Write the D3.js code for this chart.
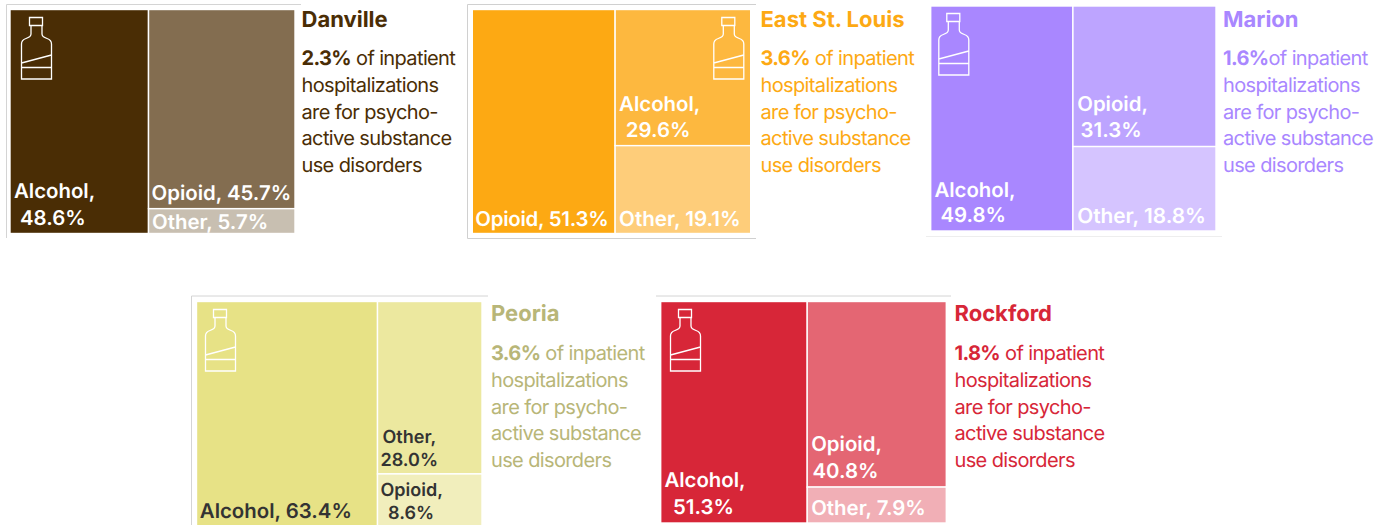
<!DOCTYPE html>
<html><head><meta charset="utf-8">
<script src="https://cdn.jsdelivr.net/npm/d3@7/dist/d3.min.js"></script>
<style>
html,body{margin:0;padding:0;background:#fff;overflow:hidden}
svg{display:block}
text{font-family:Inter,"Noto Sans",sans-serif;text-rendering:geometricPrecision}
</style></head><body>
<svg id="c" width="1388" height="525"></svg>
<script>
// ---- data ----
const cities   = ["Danville","East St. Louis","Marion","Peoria","Rockford"];
const shares   = ["2.3%","3.6%","1.6%","3.6%","1.8%"];
const alcohol  = [48.6,29.6,49.8,63.4,51.3];
const opioid   = [45.7,51.3,31.3,8.6,40.8];
const other    = [5.7,19.1,18.8,28.0,7.9];
// order: [left column, right-top, right-bottom]
const stacking = [
  ["Alcohol","Opioid","Other"],
  ["Opioid","Alcohol","Other"],
  ["Alcohol","Opioid","Other"],
  ["Alcohol","Other","Opioid"],
  ["Alcohol","Opioid","Other"]
];
const bodyLines = ["of inpatient","hospitalizations","are for psycho-","active substance","use disorders"];

// ---- layout and style ----
const boxes = [
  {x0:10,   x1:295,   y0:9.5,   y1:233.5, tx:301.5,  ty:27,  by0:65,  bx:21,    by:17},
  {x0:472.3,x1:750.7, y0:9.5,   y1:233.5, tx:760.5,  ty:27,  by0:65,  bx:713.3, by:17},
  {x0:930.7,x1:1216,  y0:6,     y1:231,   tx:1223,   ty:27,  by0:65,  bx:938.3, by:13},
  {x0:196.5,x1:482,   y0:301.5, y1:526.9, tx:491,    ty:320.5,by0:360, bx:205,  by:309},
  {x0:660.7,x1:946.3, y0:301.5, y1:523,   tx:954.5,  ty:320.5,by0:360, bx:670,  by:309}
];
const mainColor = ["#4A2D05","#FDA913","#A987FF","#E7E286","#D72638"];
const textColor = ["#4A2D05","#FDA913","#A987FF","#B8B678","#D72638"];
const midColor  = ["#836D50","#FDB83F","#BDA4FF","#ECE89F","#E46673"];
const lowColor  = ["#C8BFB1","#FECD7A","#D5C4FF","#F1EEBC","#F1AFB6"];
const labelInk  = ["#fff","#fff","#fff","#333","#fff"];
const labelSize = [[20.4,20.4,20.4],[20.4,20.4,20.6],[20.4,20.4,20.8],[20.4,18,18],[20.4,20.4,20.4]];
// label text lines for left / right-top / right-bottom cell and offset from each cell's bottom-left
const labelLines = [
  [[["Alcohol,",4,35.5],["48.6%",10,8.5]], [["Opioid, 45.7%",3,8.5]], [["Other, 5.7%",3.5,4.5]]],
  [[["Opioid, 51.3%",3,8]], [["Alcohol,",4,35],["29.6%",10.7,9]], [["Other, 19.1%",4,8]]],
  [[["Alcohol,",3.7,34.3],["49.8%",9.7,8.7]], [["Opioid,",4.3,36],["31.3%",7.7,9.3]], [["Other, 18.8%",4.3,8.3]]],
  [[["Alcohol, 63.4%",3.3,8.6]], [["Other,",5,31.3],["28.0%",3,8.3]], [["Opioid,",3,31],["8.6%",10.6,8]]],
  [[["Alcohol,",3.7,35.7],["51.3%",12.3,8.7]], [["Opioid,",4,35.6],["40.8%",5.3,9]], [["Other, 7.9%",4,8]]]
];
// thin frame strokes visible around each panel
const frames = [
  ["M6.5,238V4.5H301", "#d4d4d4"],
  ["M756,4.5H467.5V238.5H756", "#d0d0d0"],
  ["M926,236.5H1222", "#eeeeee"],
  ["M191.5,525V296H488", "#d4d4d4"],
  ["M656,296H951", "#d4d4d4"]
];
const bottlePath = "M8.5,0.5H21.5V8.5H8.5Z M10,8.5V17C10,19.5 8,20.5 5,21.5C2,22.5 0.5,24.5 0.5,27V62H30.5V27C30.5,24.5 29,22.5 26,21.5C23,20.5 21,19.5 21,17V8.5 M0.5,46L30.5,38 M0.5,50.5H30.5";

const values = {Alcohol:alcohol, Opioid:opioid, Other:other};
const svg = d3.select("#c");

svg.selectAll("path.frame").data(frames).join("path")
  .attr("class","frame").attr("d",d=>d[0]).attr("fill","none")
  .attr("stroke",d=>d[1]).attr("stroke-width",1);

cities.forEach((city,i)=>{
  const b = boxes[i];
  const [l,t,u] = stacking[i];
  const vL = values[l][i], vT = values[t][i], vU = values[u][i];
  const x = d3.scaleLinear().domain([0,vL+vT+vU]).range([b.x0,b.x1]);
  const y = d3.scaleLinear().domain([0,vT+vU]).range([b.y0,b.y1]);
  const cells = [
    {x0:x(0),  x1:x(vL),       y0:b.y0, y1:b.y1, fill:mainColor[i]},
    {x0:x(vL), x1:x(vL+vT+vU), y0:y(0), y1:y(vT), fill:midColor[i]},
    {x0:x(vL), x1:x(vL+vT+vU), y0:y(vT),y1:y(vT+vU), fill:lowColor[i]}
  ];
  const g = svg.append("g");
  g.selectAll("rect").data(cells).join("rect")
    .attr("x",d=>d.x0).attr("y",d=>d.y0)
    .attr("width",d=>d.x1-d.x0).attr("height",d=>d.y1-d.y0)
    .attr("fill",d=>d.fill).attr("stroke","#fff").attr("stroke-width",1.4);

  cells.forEach((c,k)=>{
    g.selectAll(null).data(labelLines[i][k]).join("text")
      .attr("x",d=>c.x0+d[1]).attr("y",d=>c.y1-d[2])
      .attr("fill",labelInk[i]).attr("font-size",labelSize[i][k]).attr("font-weight",600)
      .attr("letter-spacing",d=>d[0]==="Opioid, 51.3%"?-0.25:0)
      .text(d=>d[0]);
  });

  g.append("path").attr("d",bottlePath).attr("transform",`translate(${b.bx},${b.by})`)
    .attr("fill","none").attr("stroke","#fff").attr("stroke-width",1.3);

  g.append("text").attr("x",b.tx).attr("y",b.ty).attr("fill",textColor[i])
    .attr("font-size",22).attr("font-weight",700).text(city);

  const dy = 26.75, ls = -0.63;
  const first = g.append("text").attr("x",b.tx).attr("y",b.by0).attr("fill",textColor[i])
    .attr("font-size",20).attr("letter-spacing",ls);
  first.append("tspan").attr("font-weight",700).text(shares[i]);
  first.append("tspan").text((i===2?"":" ")+bodyLines[0]);
  g.selectAll(null).data(bodyLines.slice(1)).join("text")
    .attr("x",b.tx).attr("y",(d,k)=>b.by0+(k+1)*dy).attr("fill",textColor[i])
    .attr("font-size",20).attr("letter-spacing",ls).text(d=>d);
});
</script></body></html>
